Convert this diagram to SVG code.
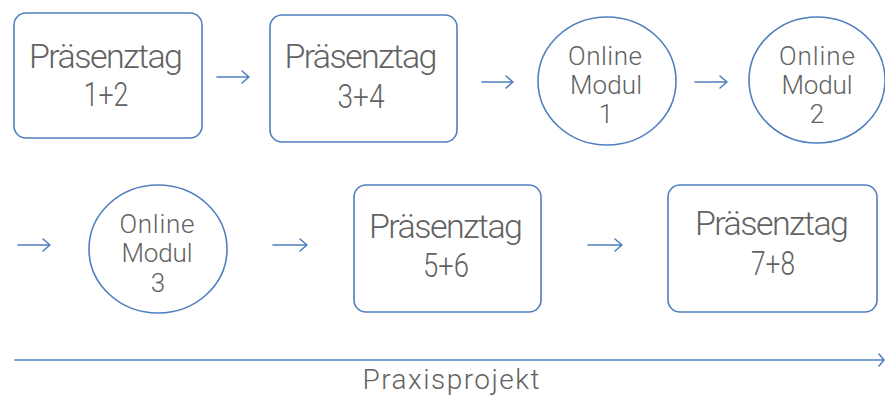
<svg xmlns="http://www.w3.org/2000/svg" width="885" height="397" viewBox="0 0 885 397">
<defs>
<style>
.shape{fill:#ffffff;stroke:#4f7fbf;stroke-width:1.6}
.conn{fill:none;stroke:#4f7fbf;stroke-width:1.6;stroke-linecap:round;stroke-linejoin:round}
.big{font-family:Roboto,"Liberation Sans",sans-serif;font-weight:300;font-size:34px;fill:#626262;text-anchor:middle}
.small{font-family:Roboto,"Liberation Sans",sans-serif;font-weight:300;font-size:26px;fill:#626262;text-anchor:middle}
</style>
</defs>
<rect width="885" height="397" fill="#ffffff"/>
<g id="connectors">
<path class="conn" d="M217 77 H249 M242 71 L249 77 L242 83"/>
<path class="conn" d="M482 82 H513 M506 76 L513 82 L506 88"/>
<path class="conn" d="M695 82 H727 M720 76 L727 82 L720 88"/>
<path class="conn" d="M18 245 H50 M43 239 L50 245 L43 251"/>
<path class="conn" d="M273 245 H307 M300 239 L307 245 L300 251"/>
<path class="conn" d="M588 245 H622 M615 239 L622 245 L615 251"/>
<path class="conn" d="M15 360 H884 M879 354 L884 360 L879 366"/>
</g>
<g id="node-praesenztag-1-2">
<rect class="shape" x="14" y="13" width="188" height="125" rx="12"/>
<text class="big" x="106" y="68" textLength="154" lengthAdjust="spacing">Präsenztag</text>
<text class="big" x="106" y="106" textLength="45" lengthAdjust="spacingAndGlyphs">1+2</text>
</g>
<g id="node-praesenztag-3-4">
<rect class="shape" x="270" y="15" width="187" height="127" rx="12"/>
<text class="big" x="361" y="68" textLength="153" lengthAdjust="spacing">Präsenztag</text>
<text class="big" x="361" y="108" textLength="47" lengthAdjust="spacingAndGlyphs">3+4</text>
</g>
<g id="node-online-modul-1">
<ellipse class="shape" cx="607" cy="81" rx="69" ry="64"/>
<text class="small" x="605" y="65" textLength="74" lengthAdjust="spacing">Online</text>
<text class="small" x="606" y="94" textLength="72" lengthAdjust="spacing">Modul</text>
<text class="small" x="606" y="123">1</text>
</g>
<g id="node-online-modul-2">
<ellipse class="shape" cx="817" cy="80" rx="68" ry="63"/>
<text class="small" x="817" y="65" textLength="76" lengthAdjust="spacing">Online</text>
<text class="small" x="817" y="94" textLength="71" lengthAdjust="spacing">Modul</text>
<text class="small" x="817" y="123">2</text>
</g>
<g id="node-online-modul-3">
<ellipse class="shape" cx="158" cy="249" rx="69" ry="64"/>
<text class="small" x="157" y="233" textLength="75" lengthAdjust="spacing">Online</text>
<text class="small" x="157" y="262" textLength="71" lengthAdjust="spacing">Modul</text>
<text class="small" x="158" y="292">3</text>
</g>
<g id="node-praesenztag-5-6">
<rect class="shape" x="354" y="185" width="187" height="127" rx="12"/>
<text class="big" x="446" y="238" textLength="154" lengthAdjust="spacing">Präsenztag</text>
<text class="big" x="446" y="277" textLength="46" lengthAdjust="spacingAndGlyphs">5+6</text>
</g>
<g id="node-praesenztag-7-8">
<rect class="shape" x="668" y="185" width="209" height="127" rx="12"/>
<text class="big" x="772" y="235" textLength="154" lengthAdjust="spacing">Präsenztag</text>
<text class="big" x="773" y="275" textLength="44" lengthAdjust="spacingAndGlyphs">7+8</text>
</g>
<g id="label-praxisprojekt">
<text class="small" x="451" y="389" textLength="177" lengthAdjust="spacing" style="font-size:28px">Praxisprojekt</text>
</g>
</svg>
